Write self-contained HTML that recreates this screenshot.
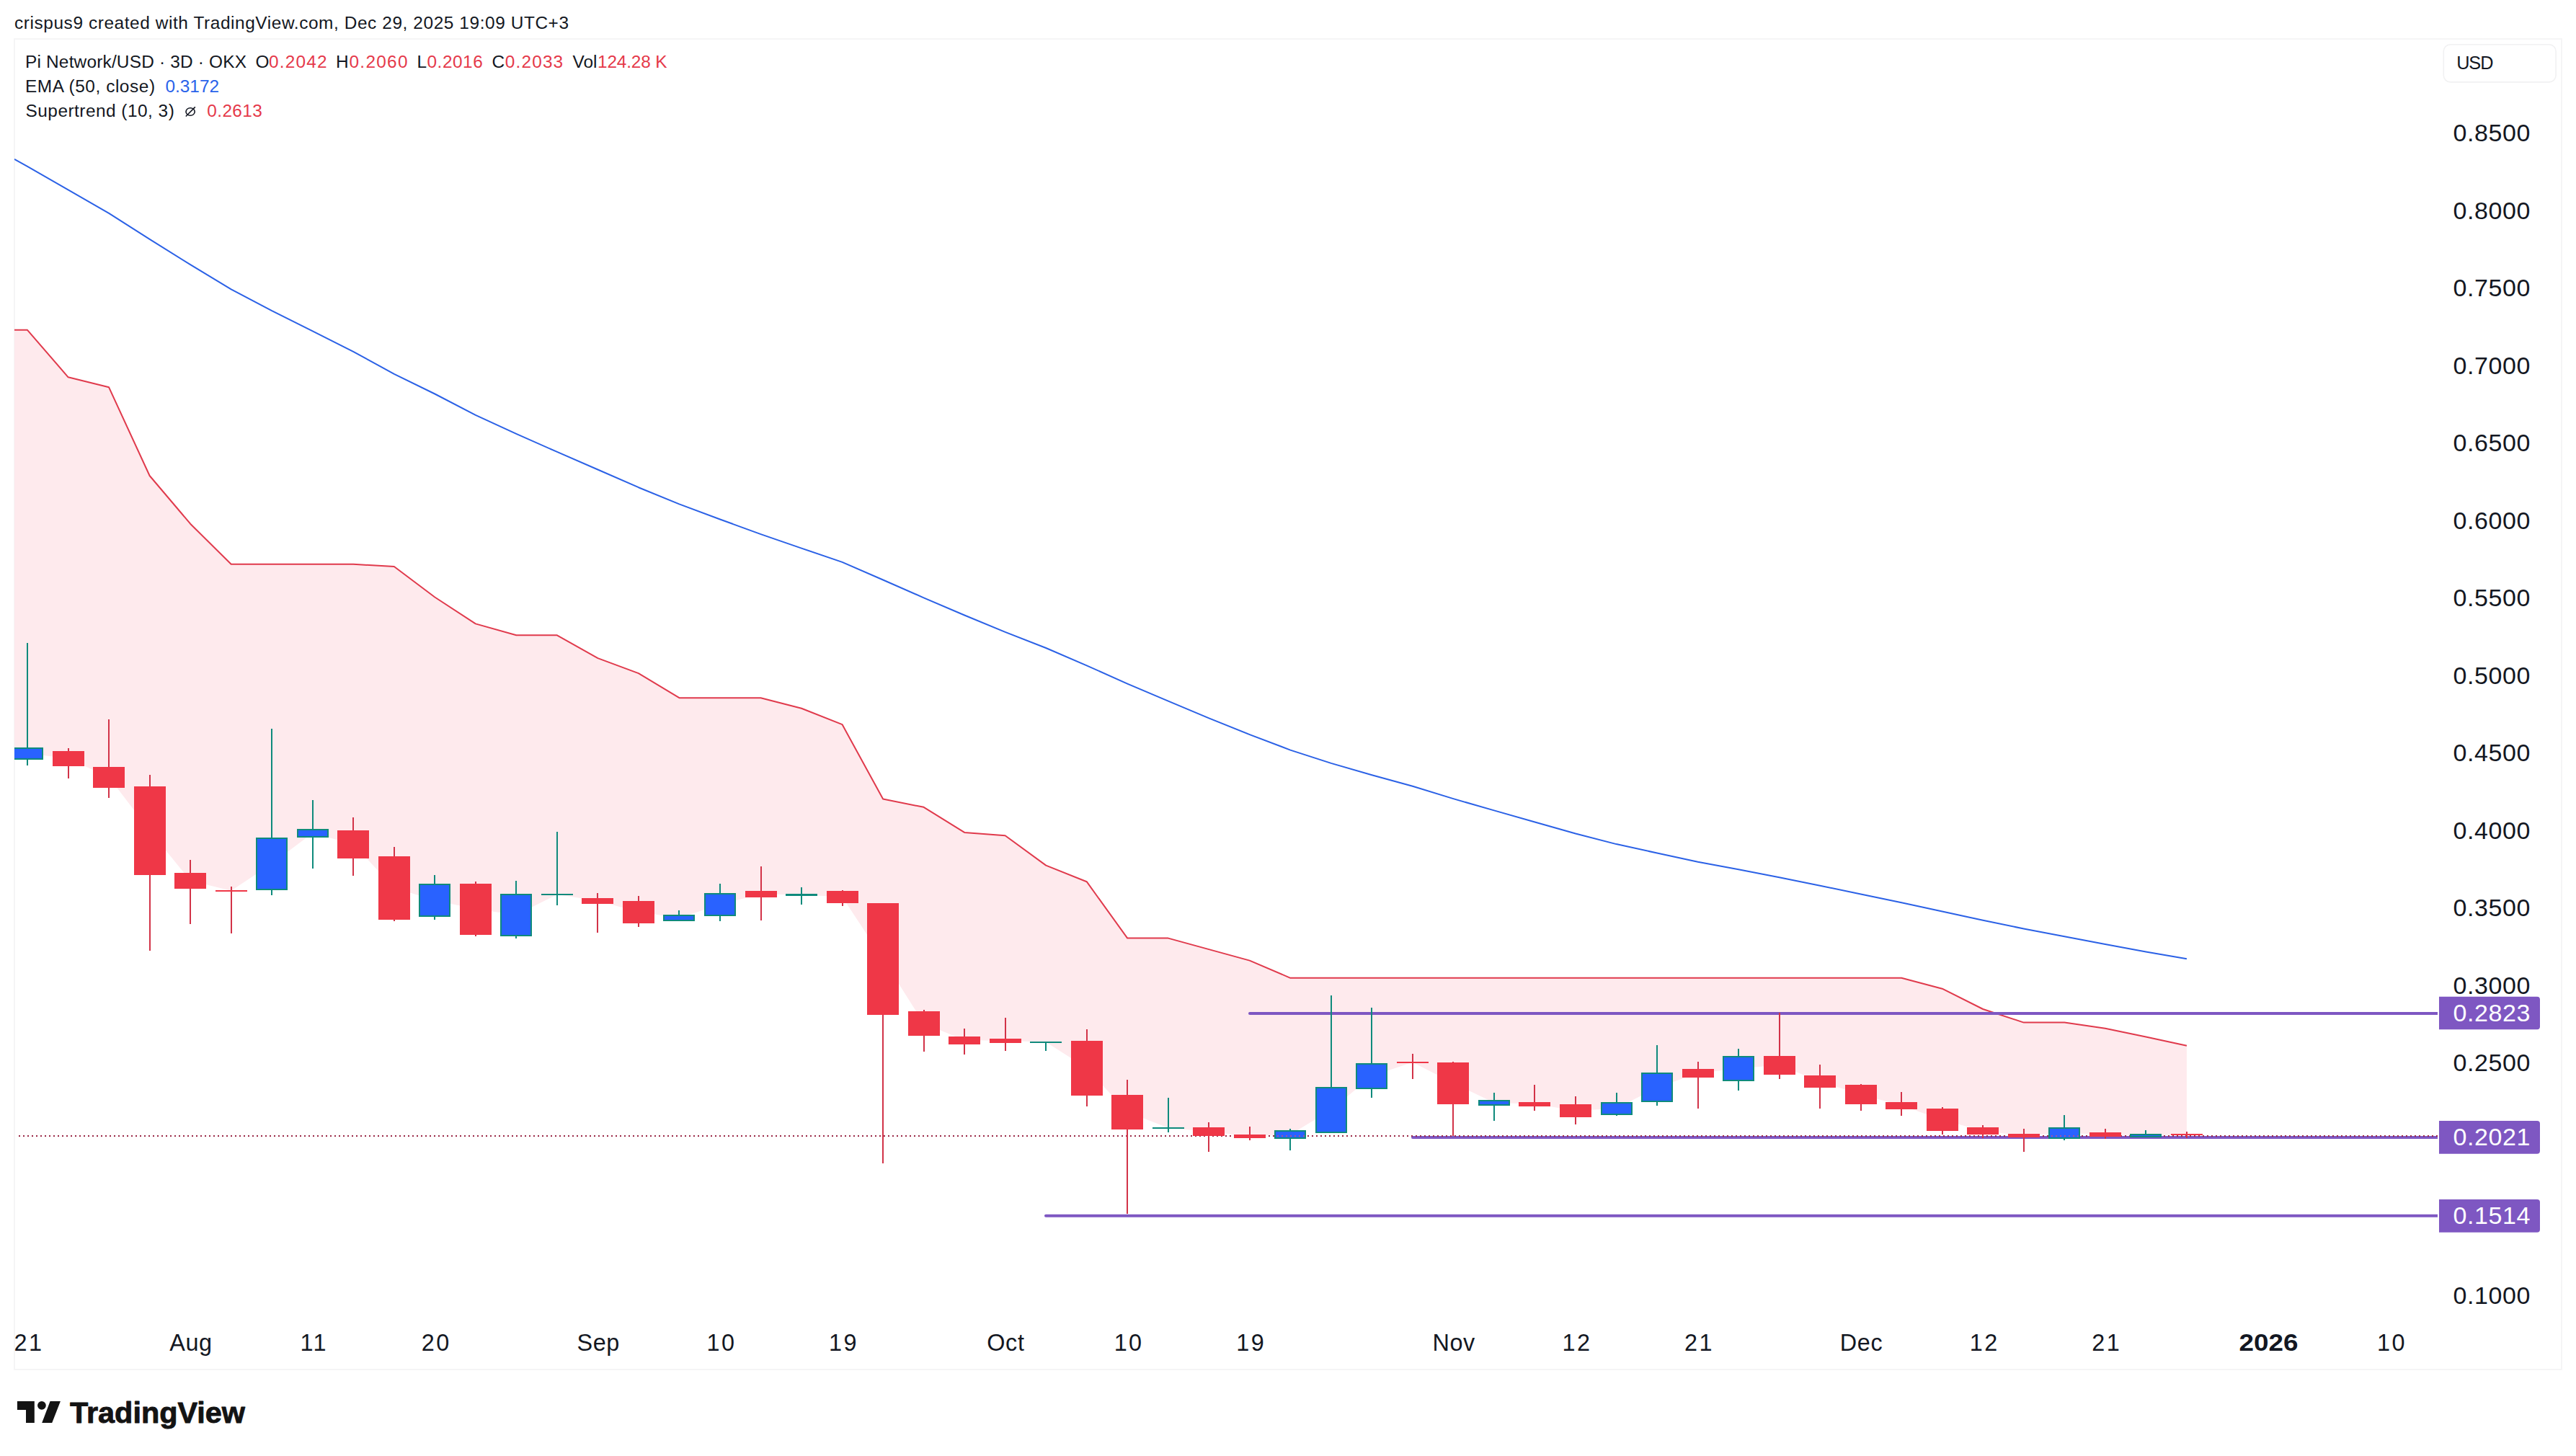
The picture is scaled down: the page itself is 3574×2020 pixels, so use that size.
<!DOCTYPE html>
<html lang="en"><head><meta charset="utf-8"><title>Pi Network/USD 3D OKX - TradingView</title>
<style>
html,body{margin:0;padding:0;background:#fff}
body{width:3574px;height:2020px;overflow:hidden;position:relative}
svg{display:block;position:absolute;left:0;top:0}
text{font-family:"Liberation Sans", "DejaVu Sans", sans-serif;fill:#131722;white-space:pre}
.ax{font-size:34px;letter-spacing:0.62px}
.tm{font-size:32.4px;text-anchor:middle} .td{letter-spacing:2.4px} .tmo{letter-spacing:0.6px}
.lg{font-size:24.4px}
.r{fill:#e5394a} .b{fill:#2a63ea} .w{fill:#fff}
</style></head><body>
<svg width="3574" height="2020" viewBox="0 0 3574 2020">
<rect width="3574" height="2020" fill="#fff"/>
<rect x="20" y="54" width="3534" height="1846" fill="none" stroke="#f5f5f6" stroke-width="2"/>
<defs><clipPath id="pane"><rect x="20" y="55" width="3362" height="1760"/></clipPath></defs>
<g clip-path="url(#pane)">
<polygon fill="#feeaed" points="20.0,457.8 38.0,457.8 94.6,523.3 151.1,537.3 207.6,660.0 264.1,726.7 320.7,782.8 377.2,782.8 433.7,782.8 490.2,782.8 546.8,786.0 603.3,828.5 659.8,865.4 716.3,881.3 772.9,881.3 829.4,913.1 885.9,934.1 942.4,968.2 999.0,968.2 1055.5,968.2 1112.0,982.7 1168.5,1005.1 1225.1,1108.6 1281.6,1119.8 1338.1,1154.9 1394.6,1159.3 1451.2,1200.6 1507.7,1223.2 1564.2,1301.6 1620.8,1301.6 1677.3,1317.1 1733.8,1332.6 1790.3,1356.8 1846.8,1356.8 1903.4,1356.8 1959.9,1356.8 2016.4,1356.8 2072.9,1356.8 2129.5,1356.8 2186.0,1356.8 2242.5,1356.8 2299.1,1356.8 2355.6,1356.8 2412.1,1356.8 2468.6,1356.8 2525.2,1356.8 2581.7,1356.8 2638.2,1356.8 2694.7,1371.7 2751.2,1400.0 2807.8,1418.6 2864.3,1418.6 2920.8,1426.7 2977.3,1438.5 3033.9,1450.7 3033.9,1574.0 2977.3,1575.5 2920.8,1573.9 2864.3,1571.8 2807.8,1575.5 2751.2,1569.0 2694.7,1553.4 2638.2,1533.8 2581.7,1518.3 2525.2,1500.5 2468.6,1477.8 2412.1,1482.3 2355.6,1489.0 2299.1,1508.7 2242.5,1537.9 2186.0,1540.7 2129.5,1531.8 2072.9,1529.8 2016.4,1502.8 1959.9,1473.8 1903.4,1492.8 1846.8,1539.8 1790.3,1573.9 1733.8,1576.4 1677.3,1569.9 1620.8,1564.8 1564.2,1542.8 1507.7,1481.8 1451.2,1445.7 1394.6,1443.8 1338.1,1443.2 1281.6,1419.8 1225.1,1330.3 1168.5,1244.3 1112.0,1241.4 1055.5,1240.3 999.0,1254.9 942.4,1273.4 885.9,1265.3 829.4,1249.8 772.9,1241.0 716.3,1269.2 659.8,1261.3 603.3,1248.9 546.8,1231.8 490.2,1171.2 433.7,1155.8 377.2,1198.2 320.7,1235.8 264.1,1221.7 207.6,1152.3 151.1,1078.2 94.6,1052.3 38.0,1045.3 20.0,1043.1"/>
<polyline fill="none" stroke="#2b61e6" stroke-width="2" stroke-linejoin="round" points="20.0,220.8 38.0,230.8 94.6,263.4 151.1,295.9 207.6,331.9 264.1,367.2 320.7,401.3 377.2,431.1 433.7,459.3 490.2,487.9 546.8,518.8 603.3,546.5 659.8,575.9 716.3,601.9 772.9,626.9 829.4,651.5 885.9,676.2 942.4,699.4 999.0,720.5 1055.5,741.1 1112.0,760.6 1168.5,779.9 1225.1,804.5 1281.6,829.3 1338.1,853.5 1394.6,876.8 1451.2,899.0 1507.7,923.3 1564.2,948.6 1620.8,972.7 1677.3,996.3 1733.8,1019.1 1790.3,1040.6 1846.8,1058.9 1903.4,1075.2 1959.9,1090.8 2016.4,1108.1 2072.9,1124.4 2129.5,1140.5 2186.0,1156.5 2242.5,1171.1 2299.1,1183.5 2355.6,1195.7 2412.1,1206.2 2468.6,1217.3 2525.2,1228.7 2581.7,1240.6 2638.2,1252.2 2694.7,1264.6 2751.2,1276.7 2807.8,1288.5 2864.3,1299.2 2920.8,1310.1 2977.3,1320.4 3033.9,1330.3"/>
<polyline fill="none" stroke="#e03a4c" stroke-width="2" stroke-linejoin="round" points="20.0,457.8 38.0,457.8 94.6,523.3 151.1,537.3 207.6,660.0 264.1,726.7 320.7,782.8 377.2,782.8 433.7,782.8 490.2,782.8 546.8,786.0 603.3,828.5 659.8,865.4 716.3,881.3 772.9,881.3 829.4,913.1 885.9,934.1 942.4,968.2 999.0,968.2 1055.5,968.2 1112.0,982.7 1168.5,1005.1 1225.1,1108.6 1281.6,1119.8 1338.1,1154.9 1394.6,1159.3 1451.2,1200.6 1507.7,1223.2 1564.2,1301.6 1620.8,1301.6 1677.3,1317.1 1733.8,1332.6 1790.3,1356.8 1846.8,1356.8 1903.4,1356.8 1959.9,1356.8 2016.4,1356.8 2072.9,1356.8 2129.5,1356.8 2186.0,1356.8 2242.5,1356.8 2299.1,1356.8 2355.6,1356.8 2412.1,1356.8 2468.6,1356.8 2525.2,1356.8 2581.7,1356.8 2638.2,1356.8 2694.7,1371.7 2751.2,1400.0 2807.8,1418.6 2864.3,1418.6 2920.8,1426.7 2977.3,1438.5 3033.9,1450.7"/>
<line x1="1734" y1="1405.9" x2="3390" y2="1405.9" stroke="#7e57c2" stroke-width="4" stroke-linecap="round"/>
<line x1="1960" y1="1578" x2="3390" y2="1578" stroke="#7e57c2" stroke-width="4" stroke-linecap="round"/>
<line x1="1451" y1="1686.7" x2="3390" y2="1686.7" stroke="#7e57c2" stroke-width="4" stroke-linecap="round"/>
<line x1="22" y1="1576" x2="3382" y2="1576" stroke="#9a2846" stroke-width="2" stroke-dasharray="2 4" stroke-dashoffset="2"/>
<rect x="37" y="892" width="2" height="145" fill="#0f8a7c"/>
<rect x="37" y="1054" width="2" height="8" fill="#0f8a7c"/>
<rect x="16" y="1037" width="44" height="17" fill="#0f8a7c"/>
<rect x="18" y="1039" width="40" height="13" fill="#2962ff"/>
<rect x="94" y="1038" width="2" height="4" fill="#d23348"/>
<rect x="94" y="1063" width="2" height="17" fill="#d23348"/>
<rect x="73" y="1042" width="44" height="21" fill="#ef3747"/>
<rect x="150" y="998" width="2" height="66" fill="#d23348"/>
<rect x="150" y="1093" width="2" height="14" fill="#d23348"/>
<rect x="129" y="1064" width="44" height="29" fill="#ef3747"/>
<rect x="207" y="1075" width="2" height="16" fill="#d23348"/>
<rect x="207" y="1214" width="2" height="105" fill="#d23348"/>
<rect x="186" y="1091" width="44" height="123" fill="#ef3747"/>
<rect x="263" y="1193" width="2" height="18" fill="#d23348"/>
<rect x="263" y="1233" width="2" height="49" fill="#d23348"/>
<rect x="242" y="1211" width="44" height="22" fill="#ef3747"/>
<rect x="320" y="1230" width="2" height="5" fill="#d23348"/>
<rect x="320" y="1237" width="2" height="58" fill="#d23348"/>
<rect x="299" y="1235" width="44" height="2" fill="#ef3747"/>
<rect x="376" y="1011" width="2" height="151" fill="#0f8a7c"/>
<rect x="376" y="1235" width="2" height="7" fill="#0f8a7c"/>
<rect x="355" y="1162" width="44" height="73" fill="#0f8a7c"/>
<rect x="357" y="1164" width="40" height="69" fill="#2962ff"/>
<rect x="433" y="1110" width="2" height="40" fill="#0f8a7c"/>
<rect x="433" y="1162" width="2" height="43" fill="#0f8a7c"/>
<rect x="412" y="1150" width="44" height="12" fill="#0f8a7c"/>
<rect x="414" y="1152" width="40" height="8" fill="#2962ff"/>
<rect x="489" y="1134" width="2" height="18" fill="#d23348"/>
<rect x="489" y="1191" width="2" height="24" fill="#d23348"/>
<rect x="468" y="1152" width="44" height="39" fill="#ef3747"/>
<rect x="546" y="1175" width="2" height="13" fill="#d23348"/>
<rect x="546" y="1276" width="2" height="2" fill="#d23348"/>
<rect x="525" y="1188" width="44" height="88" fill="#ef3747"/>
<rect x="602" y="1214" width="2" height="12" fill="#0f8a7c"/>
<rect x="602" y="1272" width="2" height="4" fill="#0f8a7c"/>
<rect x="581" y="1226" width="44" height="46" fill="#0f8a7c"/>
<rect x="583" y="1228" width="40" height="42" fill="#2962ff"/>
<rect x="659" y="1223" width="2" height="3" fill="#d23348"/>
<rect x="659" y="1297" width="2" height="2" fill="#d23348"/>
<rect x="638" y="1226" width="44" height="71" fill="#ef3747"/>
<rect x="715" y="1222" width="2" height="18" fill="#0f8a7c"/>
<rect x="715" y="1299" width="2" height="3" fill="#0f8a7c"/>
<rect x="694" y="1240" width="44" height="59" fill="#0f8a7c"/>
<rect x="696" y="1242" width="40" height="55" fill="#2962ff"/>
<rect x="772" y="1154" width="2" height="86" fill="#0f8a7c"/>
<rect x="772" y="1242" width="2" height="14" fill="#0f8a7c"/>
<rect x="751" y="1240" width="44" height="2" fill="#0f8a7c"/>
<rect x="828" y="1239" width="2" height="7" fill="#d23348"/>
<rect x="828" y="1254" width="2" height="40" fill="#d23348"/>
<rect x="807" y="1246" width="44" height="8" fill="#ef3747"/>
<rect x="885" y="1243" width="2" height="7" fill="#d23348"/>
<rect x="885" y="1281" width="2" height="5" fill="#d23348"/>
<rect x="864" y="1250" width="44" height="31" fill="#ef3747"/>
<rect x="941" y="1263" width="2" height="6" fill="#0f8a7c"/>
<rect x="920" y="1269" width="44" height="9" fill="#0f8a7c"/>
<rect x="922" y="1271" width="40" height="5" fill="#2962ff"/>
<rect x="998" y="1226" width="2" height="13" fill="#0f8a7c"/>
<rect x="998" y="1271" width="2" height="7" fill="#0f8a7c"/>
<rect x="977" y="1239" width="44" height="32" fill="#0f8a7c"/>
<rect x="979" y="1241" width="40" height="28" fill="#2962ff"/>
<rect x="1055" y="1202" width="2" height="34" fill="#d23348"/>
<rect x="1055" y="1245" width="2" height="32" fill="#d23348"/>
<rect x="1034" y="1236" width="44" height="9" fill="#ef3747"/>
<rect x="1111" y="1231" width="2" height="9" fill="#0f8a7c"/>
<rect x="1111" y="1243" width="2" height="12" fill="#0f8a7c"/>
<rect x="1090" y="1240" width="44" height="3" fill="#0f8a7c"/>
<rect x="1168" y="1235" width="2" height="1" fill="#d23348"/>
<rect x="1168" y="1253" width="2" height="4" fill="#d23348"/>
<rect x="1147" y="1236" width="44" height="17" fill="#ef3747"/>
<rect x="1224" y="1408" width="2" height="206" fill="#d23348"/>
<rect x="1203" y="1253" width="44" height="155" fill="#ef3747"/>
<rect x="1281" y="1401" width="2" height="2" fill="#d23348"/>
<rect x="1281" y="1437" width="2" height="22" fill="#d23348"/>
<rect x="1260" y="1403" width="44" height="34" fill="#ef3747"/>
<rect x="1337" y="1427" width="2" height="11" fill="#d23348"/>
<rect x="1337" y="1449" width="2" height="14" fill="#d23348"/>
<rect x="1316" y="1438" width="44" height="11" fill="#ef3747"/>
<rect x="1394" y="1412" width="2" height="29" fill="#d23348"/>
<rect x="1394" y="1447" width="2" height="11" fill="#d23348"/>
<rect x="1373" y="1441" width="44" height="6" fill="#ef3747"/>
<rect x="1450" y="1447" width="2" height="11" fill="#0f8a7c"/>
<rect x="1429" y="1445" width="44" height="2" fill="#0f8a7c"/>
<rect x="1507" y="1428" width="2" height="16" fill="#d23348"/>
<rect x="1507" y="1520" width="2" height="15" fill="#d23348"/>
<rect x="1486" y="1444" width="44" height="76" fill="#ef3747"/>
<rect x="1563" y="1498" width="2" height="21" fill="#d23348"/>
<rect x="1563" y="1567" width="2" height="117" fill="#d23348"/>
<rect x="1542" y="1519" width="44" height="48" fill="#ef3747"/>
<rect x="1620" y="1523" width="2" height="41" fill="#0f8a7c"/>
<rect x="1620" y="1566" width="2" height="5" fill="#0f8a7c"/>
<rect x="1599" y="1564" width="44" height="2" fill="#0f8a7c"/>
<rect x="1676" y="1557" width="2" height="7" fill="#d23348"/>
<rect x="1676" y="1576" width="2" height="22" fill="#d23348"/>
<rect x="1655" y="1564" width="44" height="12" fill="#ef3747"/>
<rect x="1733" y="1563" width="2" height="11" fill="#d23348"/>
<rect x="1733" y="1579" width="2" height="3" fill="#d23348"/>
<rect x="1712" y="1574" width="44" height="5" fill="#ef3747"/>
<rect x="1789" y="1566" width="2" height="2" fill="#0f8a7c"/>
<rect x="1789" y="1580" width="2" height="16" fill="#0f8a7c"/>
<rect x="1768" y="1568" width="44" height="12" fill="#0f8a7c"/>
<rect x="1770" y="1570" width="40" height="8" fill="#2962ff"/>
<rect x="1846" y="1381" width="2" height="127" fill="#0f8a7c"/>
<rect x="1825" y="1508" width="44" height="64" fill="#0f8a7c"/>
<rect x="1827" y="1510" width="40" height="60" fill="#2962ff"/>
<rect x="1902" y="1398" width="2" height="77" fill="#0f8a7c"/>
<rect x="1902" y="1511" width="2" height="12" fill="#0f8a7c"/>
<rect x="1881" y="1475" width="44" height="36" fill="#0f8a7c"/>
<rect x="1883" y="1477" width="40" height="32" fill="#2962ff"/>
<rect x="1959" y="1462" width="2" height="11" fill="#d23348"/>
<rect x="1959" y="1475" width="2" height="22" fill="#d23348"/>
<rect x="1938" y="1473" width="44" height="2" fill="#ef3747"/>
<rect x="2015" y="1473" width="2" height="1" fill="#d23348"/>
<rect x="2015" y="1532" width="2" height="44" fill="#d23348"/>
<rect x="1994" y="1474" width="44" height="58" fill="#ef3747"/>
<rect x="2072" y="1516" width="2" height="10" fill="#0f8a7c"/>
<rect x="2072" y="1534" width="2" height="21" fill="#0f8a7c"/>
<rect x="2051" y="1526" width="44" height="8" fill="#0f8a7c"/>
<rect x="2053" y="1528" width="40" height="4" fill="#2962ff"/>
<rect x="2128" y="1505" width="2" height="24" fill="#d23348"/>
<rect x="2128" y="1535" width="2" height="6" fill="#d23348"/>
<rect x="2107" y="1529" width="44" height="6" fill="#ef3747"/>
<rect x="2185" y="1521" width="2" height="11" fill="#d23348"/>
<rect x="2185" y="1550" width="2" height="10" fill="#d23348"/>
<rect x="2164" y="1532" width="44" height="18" fill="#ef3747"/>
<rect x="2242" y="1516" width="2" height="13" fill="#0f8a7c"/>
<rect x="2242" y="1547" width="2" height="1" fill="#0f8a7c"/>
<rect x="2221" y="1529" width="44" height="18" fill="#0f8a7c"/>
<rect x="2223" y="1531" width="40" height="14" fill="#2962ff"/>
<rect x="2298" y="1450" width="2" height="38" fill="#0f8a7c"/>
<rect x="2298" y="1529" width="2" height="5" fill="#0f8a7c"/>
<rect x="2277" y="1488" width="44" height="41" fill="#0f8a7c"/>
<rect x="2279" y="1490" width="40" height="37" fill="#2962ff"/>
<rect x="2355" y="1473" width="2" height="10" fill="#d23348"/>
<rect x="2355" y="1495" width="2" height="43" fill="#d23348"/>
<rect x="2334" y="1483" width="44" height="12" fill="#ef3747"/>
<rect x="2411" y="1455" width="2" height="10" fill="#0f8a7c"/>
<rect x="2411" y="1500" width="2" height="13" fill="#0f8a7c"/>
<rect x="2390" y="1465" width="44" height="35" fill="#0f8a7c"/>
<rect x="2392" y="1467" width="40" height="31" fill="#2962ff"/>
<rect x="2468" y="1405" width="2" height="60" fill="#d23348"/>
<rect x="2468" y="1491" width="2" height="6" fill="#d23348"/>
<rect x="2447" y="1465" width="44" height="26" fill="#ef3747"/>
<rect x="2524" y="1477" width="2" height="15" fill="#d23348"/>
<rect x="2524" y="1509" width="2" height="29" fill="#d23348"/>
<rect x="2503" y="1492" width="44" height="17" fill="#ef3747"/>
<rect x="2581" y="1504" width="2" height="1" fill="#d23348"/>
<rect x="2581" y="1532" width="2" height="9" fill="#d23348"/>
<rect x="2560" y="1505" width="44" height="27" fill="#ef3747"/>
<rect x="2637" y="1515" width="2" height="14" fill="#d23348"/>
<rect x="2637" y="1539" width="2" height="9" fill="#d23348"/>
<rect x="2616" y="1529" width="44" height="10" fill="#ef3747"/>
<rect x="2694" y="1536" width="2" height="2" fill="#d23348"/>
<rect x="2694" y="1569" width="2" height="5" fill="#d23348"/>
<rect x="2673" y="1538" width="44" height="31" fill="#ef3747"/>
<rect x="2750" y="1561" width="2" height="3" fill="#d23348"/>
<rect x="2750" y="1574" width="2" height="5" fill="#d23348"/>
<rect x="2729" y="1564" width="44" height="10" fill="#ef3747"/>
<rect x="2807" y="1566" width="2" height="7" fill="#d23348"/>
<rect x="2807" y="1578" width="2" height="20" fill="#d23348"/>
<rect x="2786" y="1573" width="44" height="5" fill="#ef3747"/>
<rect x="2863" y="1547" width="2" height="17" fill="#0f8a7c"/>
<rect x="2863" y="1580" width="2" height="2" fill="#0f8a7c"/>
<rect x="2842" y="1564" width="44" height="16" fill="#0f8a7c"/>
<rect x="2844" y="1566" width="40" height="12" fill="#2962ff"/>
<rect x="2920" y="1566" width="2" height="5" fill="#d23348"/>
<rect x="2920" y="1577" width="2" height="3" fill="#d23348"/>
<rect x="2899" y="1571" width="44" height="6" fill="#ef3747"/>
<rect x="2976" y="1568" width="2" height="5" fill="#0f8a7c"/>
<rect x="2955" y="1573" width="44" height="5" fill="#0f8a7c"/>
<rect x="2957" y="1575" width="40" height="1" fill="#2962ff"/>
<rect x="3033" y="1570" width="2" height="3" fill="#d23348"/>
<rect x="3033" y="1575" width="2" height="4" fill="#d23348"/>
<rect x="3012" y="1573" width="44" height="2" fill="#ef3747"/>
<rect x="1772" y="1575" width="2" height="2" fill="#c9507e" fill-opacity="0.75"/>
<rect x="1778" y="1575" width="2" height="2" fill="#c9507e" fill-opacity="0.75"/>
<rect x="1784" y="1575" width="2" height="2" fill="#c9507e" fill-opacity="0.75"/>
<rect x="1790" y="1575" width="2" height="2" fill="#c9507e" fill-opacity="0.75"/>
<rect x="1796" y="1575" width="2" height="2" fill="#c9507e" fill-opacity="0.75"/>
<rect x="1802" y="1575" width="2" height="2" fill="#c9507e" fill-opacity="0.75"/>
<rect x="1808" y="1575" width="2" height="2" fill="#c9507e" fill-opacity="0.75"/>
<rect x="2846" y="1575" width="2" height="2" fill="#c9507e" fill-opacity="0.75"/>
<rect x="2852" y="1575" width="2" height="2" fill="#c9507e" fill-opacity="0.75"/>
<rect x="2858" y="1575" width="2" height="2" fill="#c9507e" fill-opacity="0.75"/>
<rect x="2864" y="1575" width="2" height="2" fill="#c9507e" fill-opacity="0.75"/>
<rect x="2870" y="1575" width="2" height="2" fill="#c9507e" fill-opacity="0.75"/>
<rect x="2876" y="1575" width="2" height="2" fill="#c9507e" fill-opacity="0.75"/>
<rect x="2882" y="1575" width="2" height="2" fill="#c9507e" fill-opacity="0.75"/>
</g>
<text class="ax" x="3403.4" y="196.3">0.8500</text>
<text class="ax" x="3403.4" y="303.8">0.8000</text>
<text class="ax" x="3403.4" y="411.3">0.7500</text>
<text class="ax" x="3403.4" y="518.8">0.7000</text>
<text class="ax" x="3403.4" y="626.3">0.6500</text>
<text class="ax" x="3403.4" y="733.8">0.6000</text>
<text class="ax" x="3403.4" y="841.3">0.5500</text>
<text class="ax" x="3403.4" y="948.8">0.5000</text>
<text class="ax" x="3403.4" y="1056.3">0.4500</text>
<text class="ax" x="3403.4" y="1163.8">0.4000</text>
<text class="ax" x="3403.4" y="1271.3">0.3500</text>
<text class="ax" x="3403.4" y="1378.8">0.3000</text>
<text class="ax" x="3403.4" y="1486.3">0.2500</text>
<text class="ax" x="3403.4" y="1593.8">0.2000</text>
<text class="ax" x="3403.4" y="1701.3">0.1500</text>
<text class="ax" x="3403.4" y="1808.8">0.1000</text>
<path d="M3384 1382.7H3520a4 4 0 0 1 4 4V1424.3a4 4 0 0 1 -4 4H3384Z" fill="#7e57c2"/>
<text class="ax w" x="3403.4" y="1416.9">0.2823</text>
<path d="M3384 1555.1H3520a4 4 0 0 1 4 4V1596.7a4 4 0 0 1 -4 4H3384Z" fill="#7e57c2"/>
<text class="ax w" x="3403.4" y="1589.3">0.2021</text>
<path d="M3384 1664.1H3520a4 4 0 0 1 4 4V1705.7a4 4 0 0 1 -4 4H3384Z" fill="#7e57c2"/>
<text class="ax w" x="3403.4" y="1698.3">0.1514</text>
<text class="tm td" x="39.9" y="1874.3">21</text>
<text class="tm tmo" x="264.9" y="1874.3">Aug</text>
<text class="tm td" x="435.6" y="1874.3">11</text>
<text class="tm td" x="605.2" y="1874.3">20</text>
<text class="tm tmo" x="830.2" y="1874.3">Sep</text>
<text class="tm td" x="1000.9" y="1874.3">10</text>
<text class="tm td" x="1170.5" y="1874.3">19</text>
<text class="tm tmo" x="1395.4" y="1874.3">Oct</text>
<text class="tm td" x="1566.1" y="1874.3">10</text>
<text class="tm td" x="1735.7" y="1874.3">19</text>
<text class="tm tmo" x="2017.2" y="1874.3">Nov</text>
<text class="tm td" x="2187.9" y="1874.3">12</text>
<text class="tm td" x="2357.5" y="1874.3">21</text>
<text class="tm tmo" x="2582.5" y="1874.3">Dec</text>
<text class="tm td" x="2753.2" y="1874.3">12</text>
<text class="tm td" x="2922.7" y="1874.3">21</text>
<text class="tm td" x="3318.4" y="1874.3">10</text>
<text x="3106.6" y="1874.3" font-size="32.4px" font-weight="bold" textLength="82" lengthAdjust="spacingAndGlyphs">2026</text>
<rect x="3390.3" y="61.7" width="155.8" height="52.2" rx="9.5" ry="9.5" fill="#fff" stroke="#f1f1f2" stroke-width="1.6"/>
<text x="3408.2" y="95.9" font-size="25.3px" letter-spacing="-1.1">USD</text>
<text x="20" y="40.1" font-size="24.4px" textLength="769" lengthAdjust="spacing">crispus9 created with TradingView.com, Dec 29, 2025 19:09 UTC+3</text>
<text class="lg" x="35" y="93.6" textLength="307" lengthAdjust="spacing">Pi Network/USD · 3D · OKX</text>
<text class="lg" x="354.5" y="93.6">O</text><text class="lg r" x="373" y="93.6" textLength="80.5" lengthAdjust="spacing">0.2042</text>
<text class="lg" x="466" y="93.6">H</text><text class="lg r" x="484.5" y="93.6" textLength="81.0" lengthAdjust="spacing">0.2060</text>
<text class="lg" x="578.5" y="93.6">L</text><text class="lg r" x="592.5" y="93.6" textLength="77.29999999999995" lengthAdjust="spacing">0.2016</text>
<text class="lg" x="682.5" y="93.6">C</text><text class="lg r" x="700.8" y="93.6" textLength="80.40000000000009" lengthAdjust="spacing">0.2033</text>
<text class="lg" x="794.5" y="93.6">Vol</text><text class="lg r" x="829" y="93.6" textLength="96.5" lengthAdjust="spacing">124.28 K</text>
<text class="lg" x="35" y="127.6" textLength="180" lengthAdjust="spacing">EMA (50, close)</text><text class="lg b" x="229.5" y="127.6" textLength="74.5" lengthAdjust="spacing">0.3172</text>
<text class="lg" x="35.5" y="161.7" textLength="206.3" lengthAdjust="spacing">Supertrend (10, 3)</text><text class="lg r" x="287.3" y="161.7" textLength="76.5" lengthAdjust="spacing">0.2613</text>
<g fill="none" stroke="#131722" stroke-width="1.6"><ellipse cx="264.1" cy="155" rx="6.1" ry="5.3"/><line x1="257.8" y1="161.5" x2="270.8" y2="148.4"/></g>
<g fill="#131313"><path d="M23.9 1944.1H47.8V1973.9H36V1955.9H23.9Z"/><circle cx="57.9" cy="1949.8" r="5.9"/><path d="M69.6 1944.1H83.9L72.2 1973.9H58.2Z"/></g>
<text x="97" y="1973.9" font-size="41.5px" font-weight="bold" style="fill:#131313;stroke:#131313;stroke-width:0.9px;stroke-linejoin:round" textLength="243" lengthAdjust="spacingAndGlyphs">TradingView</text>
</svg></body></html>
